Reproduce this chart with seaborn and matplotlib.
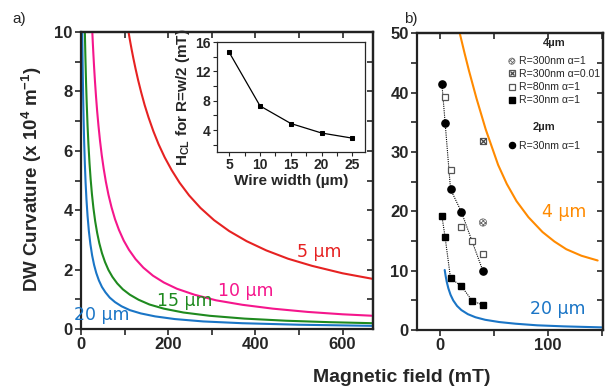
"""
DW curvature vs magnetic field - two panels with inset
"""

import numpy as np
import matplotlib
matplotlib.use('Agg')
import matplotlib.pyplot as plt
from matplotlib.ticker import MultipleLocator
import seaborn as sns

sns.set_style("ticks")
plt.rcParams['font.family'] = ['Liberation Sans', 'DejaVu Sans']
plt.rcParams['font.weight'] = 'bold'
plt.rcParams['axes.labelweight'] = 'bold'
plt.rcParams['mathtext.fontset'] = 'custom'
plt.rcParams['mathtext.default'] = 'bf'
plt.rcParams['mathtext.bf'] = 'Liberation Sans:bold'
plt.rcParams['mathtext.rm'] = 'Liberation Sans'
plt.rcParams['hatch.color'] = '#555555'
plt.rcParams['hatch.linewidth'] = 0.6

# ---- panel a) curves (field in mT, curvature in 1e4 m^-1) ----
x_5um = [109, 112, 116, 120, 125, 131, 138, 146, 155, 166, 178, 192, 208, 226, 248, 274,
         305, 340, 380, 425, 475, 530, 600, 670]
y_5um = [10.0, 9.74, 9.42, 9.12, 8.77, 8.38, 7.97, 7.54, 7.12, 6.66, 6.22, 5.78, 5.35, 4.93,
         4.50, 4.08, 3.67, 3.30, 2.96, 2.65, 2.37, 2.13, 1.88, 1.69]

x_10um = [26, 27, 28.5, 30, 32, 34.5, 37, 40, 43.5, 47.5, 52, 57, 63, 70, 78, 87, 98, 110,
          125, 143, 165, 190, 220, 260, 310, 370, 440, 520, 600, 670]
y_10um = [9.97, 9.65, 9.22, 8.82, 8.34, 7.81, 7.34, 6.85, 6.35, 5.86, 5.40, 4.96, 4.52, 4.10,
          3.70, 3.34, 2.98, 2.67, 2.36, 2.07, 1.80, 1.57, 1.36, 1.16, 0.97, 0.82, 0.69, 0.58,
          0.50, 0.45]

x_15um = [8.8, 10, 11.5, 13, 15, 17, 19.5, 22, 25, 28.5, 32.5, 37, 42, 48, 55, 63, 72, 83,
          96, 112, 132, 157, 190, 235, 295, 375, 470, 570, 670]
y_15um = [10.0, 9.18, 8.33, 7.63, 6.85, 6.22, 5.58, 5.06, 4.55, 4.07, 3.63, 3.24, 2.89, 2.56,
          2.26, 1.99, 1.76, 1.54, 1.34, 1.16, 0.99, 0.83, 0.69, 0.56, 0.45, 0.355, 0.284,
          0.235, 0.20]

x_20um = [2.8, 3.3, 4, 5, 6, 7.3, 8.8, 10.5, 12.5, 15, 18, 21.5, 25.5, 30, 35, 41, 48, 56,
          66, 78, 93, 112, 137, 170, 215, 280, 370, 500, 670]
y_20um = [10.0, 9.38, 8.62, 7.73, 7.01, 6.25, 5.56, 4.93, 4.36, 3.81, 3.30, 2.86, 2.48, 2.16,
          1.89, 1.64, 1.42, 1.24, 1.06, 0.91, 0.77, 0.64, 0.53, 0.43, 0.34, 0.26, 0.20, 0.149,
          0.111]

# ---- inset ----
wire_width = [5, 10, 15, 20, 25]
h_cl = [14.6, 7.3, 4.9, 3.6, 2.9]

# ---- panel b) ----
x_4um_b = [18.5, 23, 27, 34, 42.5, 54, 62, 71, 82, 95, 106, 117, 131, 146]
y_4um_b = [50, 46.6, 43.7, 39.0, 33.8, 27.8, 24.6, 21.7, 19.0, 16.5, 14.9, 13.6, 12.5, 11.7]

x_20um_b = [4.6, 5.5, 6.5, 8, 10, 12.5, 16, 20, 26, 33, 42, 55, 70, 90, 115, 150]
y_20um_b = [10.1, 9.06, 8.1, 7.0, 5.92, 4.97, 4.05, 3.35, 2.66, 2.14, 1.71, 1.33, 1.05, 0.78,
            0.60, 0.43]

# simulations, 4 um wire
x_r30 = [2, 5, 10, 20, 30, 40]
y_r30 = [19.2, 15.6, 8.7, 7.4, 4.9, 4.2]
x_r80 = [5, 10, 20, 30, 40]
y_r80 = [39.3, 26.9, 17.3, 15.0, 12.8]
x_r300_a1 = [40]
y_r300_a1 = [18.1]
x_r300_a001 = [40]
y_r300_a001 = [31.8]
# simulations, 2 um wire
x_2um_r30 = [2, 5, 10, 20, 40]
y_2um_r30 = [41.5, 34.9, 23.7, 19.9, 9.9]

c_red = '#e62222'
c_pink = '#f5168c'
c_green = '#1f8a1f'
c_blue = '#1a75c6'
c_orange = '#ff8a00'

fig = plt.figure(figsize=(6.11, 3.90), dpi=100)
ax1 = fig.add_axes([0.1326, 0.156, 0.478, 0.762])
ax2 = fig.add_axes([0.6825, 0.154, 0.3045, 0.761])
axin = fig.add_axes([0.355, 0.610, 0.242, 0.282])


def style_axis(ax, xmaj, xmin, ymaj, ymin, xlim, ylim):
    ax.set_xlim(*xlim)
    ax.set_ylim(*ylim)
    ax.set_xticks(xmaj)
    ax.set_yticks(ymaj)
    ax.xaxis.set_minor_locator(MultipleLocator(xmin))
    ax.yaxis.set_minor_locator(MultipleLocator(ymin))
    ax.tick_params(which='both', direction='out', length=4, width=1.2, labelsize=12,
                   top=False, right=False, pad=2)
    for s in ax.spines.values():
        s.set_visible(True)
        s.set_linewidth(1.6)
        s.set_color('#222222')
    # inward ticks on top / right
    top = ax.secondary_xaxis('top')
    top.set_xticks(xmaj)
    top.xaxis.set_minor_locator(MultipleLocator(xmin))
    top.tick_params(which='both', direction='in', length=4, width=1.2, labeltop=False)
    top.spines['top'].set_linewidth(1.6)
    right = ax.secondary_yaxis('right')
    right.set_yticks(ymaj)
    right.yaxis.set_minor_locator(MultipleLocator(ymin))
    right.tick_params(which='both', direction='in', length=4, width=1.2, labelright=False)
    right.spines['right'].set_linewidth(1.6)


# panel a)
for xs, ys, col in [(x_5um, y_5um, c_red), (x_10um, y_10um, c_pink),
                    (x_15um, y_15um, c_green), (x_20um, y_20um, c_blue)]:
    sns.lineplot(x=xs, y=ys, ax=ax1, color=col, lw=1.5)
style_axis(ax1, [0, 200, 400, 600], 100, [0, 2, 4, 6, 8, 10], 1, (0, 670), (0, 10))

lab_kw = dict(fontsize=12.5, fontweight='normal', family='DejaVu Sans', ha='center', va='center')
ax1.text(547, 2.6, '5 µm', color=c_red, **lab_kw)
ax1.text(379, 1.3, '10 µm', color=c_pink, **lab_kw)
ax1.text(238, 0.96, '15 µm', color=c_green, **lab_kw)
ax1.text(47, 0.49, '20 µm', color=c_blue, **lab_kw)

# inset
axin.set_facecolor('white')
sns.lineplot(x=wire_width, y=h_cl, ax=axin, color='black', lw=0.9, marker='s', ms=3.2,
             markeredgecolor='black')
axin.set_xlim(3, 27)
axin.set_ylim(1, 16)
axin.set_xticks([5, 10, 15, 20, 25])
axin.set_yticks([4, 8, 12, 16])
axin.xaxis.set_minor_locator(MultipleLocator(2.5))
axin.yaxis.set_minor_locator(MultipleLocator(2))
axin.tick_params(which='both', direction='out', length=3, width=0.8, labelsize=10, pad=1.5)
for s in axin.spines.values():
    s.set_visible(True)
    s.set_linewidth(0.9)
axin.set_xlabel('Wire width (µm)', fontsize=11, labelpad=1)
axin.set_ylabel(r'H$_{CL}$ for R=w/2 (mT)', fontsize=11, labelpad=2)

# panel b)
sns.lineplot(x=x_4um_b, y=y_4um_b, ax=ax2, color=c_orange, lw=1.5)
sns.lineplot(x=x_20um_b, y=y_20um_b, ax=ax2, color=c_blue, lw=1.5)
ax2.plot(x_2um_r30, y_2um_r30, color='black', lw=0.8, ls=(0, (1, 1)), zorder=3)
ax2.plot(x_r30, y_r30, color='black', lw=0.8, ls=(0, (1, 1)), zorder=3)

h1 = ax2.scatter(x_r300_a1, y_r300_a1, marker='o', s=28, facecolor='white',
                 edgecolor='#666666', hatch='xxxxxxxx', lw=0.5, zorder=4, label='R=300nm α=1')
h2a, = ax2.plot(x_r300_a001, y_r300_a001, ls='none', marker='s', ms=5, mfc='white',
                mec='#555555', mew=0.9, zorder=4)
h2b, = ax2.plot(x_r300_a001, y_r300_a001, ls='none', marker='x', ms=4.2, mec='#444444',
                mew=0.9, zorder=5)
h3, = ax2.plot(x_r80, y_r80, ls='none', marker='s', ms=4.5, mfc='white', mec='#555555',
               mew=0.9, zorder=4, label='R=80nm α=1')
h4, = ax2.plot(x_r30, y_r30, ls='none', marker='s', ms=4.8, color='black', zorder=4,
               label='R=30nm α=1')
h5, = ax2.plot(x_2um_r30, y_2um_r30, ls='none', marker='o', ms=5.2, color='black', zorder=4,
               label='R=30nm α=1')
style_axis(ax2, [0, 100], 50, [0, 10, 20, 30, 40, 50], 5, (-21, 151), (0, 50))

ax2.text(115, 19.8, '4 µm', color=c_orange, **lab_kw)
ax2.text(109, 3.45, '20 µm', color=c_blue, **lab_kw)

leg_kw = dict(loc='upper left', frameon=False, handlelength=0.7, handletextpad=0.3,
              borderpad=0, borderaxespad=0, labelspacing=0.3, markerscale=0.85,
              prop={'weight': 'normal', 'size': 7.6},
              title_fontproperties={'weight': 'bold', 'size': 8})
leg1 = ax2.legend(handles=[h1, (h2a, h2b), h3, h4],
                  labels=['R=300nm α=1', 'R=300nm α=0.01', 'R=80nm α=1', 'R=30nm α=1'],
                  title='4µm', bbox_to_anchor=(0.49, 0.985), **leg_kw)
leg1._legend_box.sep = 6
ax2.add_artist(leg1)
leg2 = ax2.legend(handles=[h5], title='2µm', bbox_to_anchor=(0.49, 0.70), **leg_kw)
leg2._legend_box.sep = 6

# shared labels
fig.text(0.052, 0.54, r'DW Curvature (x 10$^{4}$ m$^{-1}$)', rotation=90, fontsize=13.5,
         ha='center', va='center')
fig.text(0.658, 0.033, 'Magnetic field (mT)', fontsize=14, ha='center', va='center')
fig.text(0.021, 0.952, 'a)', fontsize=11, fontweight='normal', va='center')
fig.text(0.661, 0.952, 'b)', fontsize=11, fontweight='normal', va='center')

fig.savefig('out.png', dpi=100)
